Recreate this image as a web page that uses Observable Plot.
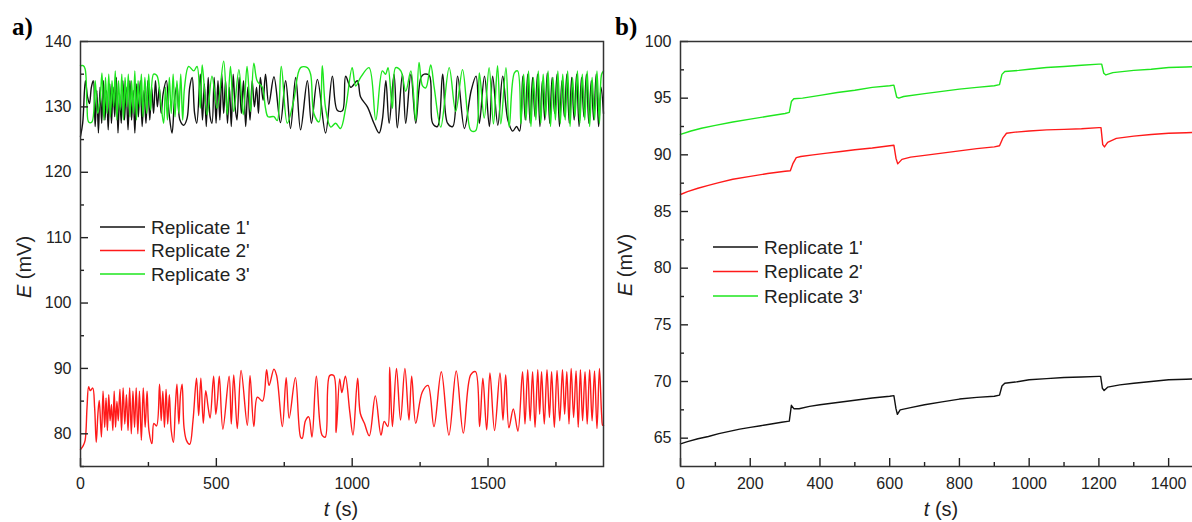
<!DOCTYPE html>
<html><head><meta charset="utf-8">
<script src="https://cdn.jsdelivr.net/npm/d3@7"></script>
<script src="https://cdn.jsdelivr.net/npm/@observablehq/plot@0.6"></script>
<style>
html,body{margin:0;padding:0;background:#fff;overflow:hidden;width:1192px;height:522px;}
#wrap{position:relative;width:1192px;height:522px;overflow:hidden;}
.panel{position:absolute;top:0;}
</style></head><body><div id="wrap"></div>
<script>
// ---------- data ----------
const seriesNames = ["Replicate 1'", "Replicate 2'", "Replicate 3'"];
const seriesColors = ["#111111", "#ff1a1a", "#1ee61e"];

// panel a ticks
const aXTicks = [0, 500, 1000, 1500];
const aXMinor = [250, 750, 1250, 1750];
const aYTicks = [80, 90, 100, 110, 120, 130, 140];
const aYMinor = [75, 85, 95, 105, 115, 125, 135];
// panel b ticks
const bXTicks = [0, 200, 400, 600, 800, 1000, 1200, 1400];
const bXMinor = [100, 300, 500, 700, 900, 1100, 1300];
const bYTicks = [65, 70, 75, 80, 85, 90, 95, 100];
const bYMinor = [67.5, 72.5, 77.5, 82.5, 87.5, 92.5, 97.5];

// panel a: [t (s), E (mV)]
const aRep1 = [[0,125.5],[8,127.5],[18,134],[26,131.5],[33,130.5],[40,133],[47,134],[54,127],[60,132.5],[66,126],[72,133],[78,127.5],[84,134],[90,128],[96,132.5],[102,126.5],[108,133.5],[114,127.5],[120,133],[126,128.5],[132,134.5],[138,126],[144,132],[150,127.5],[156,134],[162,128],[168,133],[175,126.5],[182,134],[188,128],[194,132.5],[200,126],[207,133.5],[213,128.5],[220,134],[227,127],[234,132.5],[241,127.5],[248,134],[255,128],[262,133],[269,129],[276,134],[283,130],[290,133],[297,129],[304,132],[316,134],[326,129],[337,126],[346,131],[355,133.3],[366,128],[380,127.2],[392,128.2],[402,133],[411,134.5],[420,129],[428,127.5],[441,135],[449,128],[456,133.5],[463,127],[470,134.5],[477,128.5],[484,127.5],[492,134.5],[499,127.5],[506,134],[513,128],[520,135],[527,129],[534,134],[541,127.5],[548,133],[555,127],[562,135],[569,130],[576,128],[584,134.5],[592,129],[600,134],[608,127],[616,133],[624,128],[632,134],[640,130],[648,133],[655,129],[662,134.5],[672,131],[681,135],[693,130.4],[712,134.6],[736,127.6],[755,134],[773,126.7],[792,134.5],[810,126.5],[835,134],[850,127.5],[872,134.2],[902,126],[927,134.7],[945,129.5],[964,129.4],[976,134.7],[995,133],[1019,134],[1031,131.5],[1056,130],[1080,127.5],[1099,126],[1111,128],[1124,134],[1136,127.5],[1154,135],[1166,126.8],[1185,135],[1197,127.5],[1216,135],[1234,127.5],[1253,134.5],[1265,135],[1284,134.8],[1296,127.5],[1314,127],[1333,135],[1351,127.5],[1370,127],[1388,134.7],[1413,126.7],[1438,132.5],[1456,134.7],[1468,127.5],[1487,134.7],[1505,127],[1517,134.7],[1536,127.2],[1554,134.7],[1573,128],[1591,126.3],[1605,127],[1616,126.3],[1628,134.7],[1637,128],[1646,135],[1655,127.5],[1664,134.5],[1673,128.5],[1682,135],[1691,127],[1700,134],[1709,128],[1718,135.2],[1727,127.5],[1736,134.5],[1745,129],[1754,135],[1763,127],[1772,134],[1781,128.5],[1790,135],[1799,127.5],[1808,134.5],[1817,128],[1826,135],[1835,127],[1844,134.5],[1853,128.5],[1862,135],[1871,127.5],[1880,134],[1889,128],[1898,135],[1907,127],[1916,133],[1925,129]];
const aRep2 = [[0,77.6],[10,78.2],[17,79],[24,84],[30,87.2],[36,86.6],[45,87],[52,84],[58,78.7],[64,83],[69,85.1],[77,79.5],[83,86.5],[89,81],[94,85.5],[99,80.5],[104,86],[109,82],[114,84.5],[119,80.5],[124,86.5],[129,81],[134,85],[139,82],[145,86.8],[151,80.5],[157,87],[163,81.5],[169,86],[175,80.5],[181,87],[187,80],[193,86.5],[199,81],[205,87],[211,80],[217,86.5],[224,79],[231,87],[238,81],[245,86.5],[252,80.5],[263,78.5],[270,81.6],[280,81.2],[291,87.6],[297,82],[303,86.5],[309,81],[315,86.8],[321,81.5],[327,86],[334,80.5],[342,78.7],[349,84],[355,87.6],[362,81.5],[368,86],[374,87.6],[381,81],[390,79],[402,78.4],[414,82],[427,88.5],[435,82.8],[443,88.5],[452,81.6],[461,86.6],[470,84],[477,82.4],[490,88.8],[498,83],[504,85.1],[511,88.8],[524,80.7],[547,88.8],[555,81.5],[564,89],[577,80.8],[591,89.7],[614,81.3],[624,88.9],[638,81.1],[651,85.6],[670,85],[685,89.8],[694,87.4],[712,89.9],[722,88.9],[743,81.1],[757,88.6],[768,82.4],[791,88.6],[810,79.5],[816,79.3],[828,82],[840,82.6],[852,79.5],[868,88.8],[889,79.8],[901,79.5],[917,88.9],[932,88.9],[941,80.2],[954,88.4],[962,86.3],[975,88.8],[991,83.4],[1003,79.8],[1020,88.5],[1030,83.1],[1045,81.6],[1063,79.7],[1085,85.8],[1106,79.8],[1118,81.9],[1131,81.1],[1138,90.2],[1148,81.1],[1163,90],[1178,82.1],[1194,90],[1209,82.1],[1219,88.8],[1234,81.6],[1258,86.4],[1279,87.4],[1301,81.1],[1328,89.5],[1356,79.8],[1383,89.6],[1409,80.1],[1436,89],[1454,89.5],[1469,81.1],[1481,88.5],[1495,80.6],[1507,89.3],[1524,80.5],[1544,89.3],[1555,82.1],[1565,89],[1577,80.9],[1593,83.8],[1610,80.4],[1627,89.5],[1636,81.5],[1646,89.8],[1655,82],[1664,89.5],[1673,81],[1683,89.8],[1690,83],[1697,89.5],[1707,81.5],[1717,89.8],[1726,82.5],[1734,89.5],[1744,81],[1754,89.7],[1764,82],[1774,89.8],[1782,83],[1790,89.5],[1798,81.5],[1806,90],[1815,82.5],[1824,89.6],[1832,81],[1840,89.8],[1848,82],[1857,89.5],[1865,81.5],[1874,89.8],[1883,82],[1892,89.6],[1901,80.8],[1910,90],[1918,83],[1922,81.3],[1925,81.3]];
const aRep3 = [[0,136.3],[10,136.3],[17,135.8],[24,130],[30,127.7],[42,127.7],[54,134],[63,129],[72,131],[79,135.2],[86,128],[92,134.5],[98,129],[104,135],[110,128.5],[116,134],[122,130],[128,135.5],[134,128],[140,134],[146,129.5],[152,135],[158,128],[164,134.5],[170,130],[176,135],[182,128.5],[188,134],[194,129],[200,135.5],[206,128],[212,134],[218,130],[224,135],[230,128.5],[237,134.5],[244,129],[251,135],[258,129.5],[269,135],[281,134.8],[294,131.2],[306,127.5],[313,133],[320,128],[327,134.5],[334,129],[341,135],[348,128.5],[355,134],[362,129],[369,135],[376,128],[383,133],[398,136.2],[417,135.5],[429,136.2],[441,129.8],[448,136.4],[466,128.8],[484,134.7],[503,129.8],[527,137],[540,128.8],[552,136.2],[564,129.3],[583,135.7],[599,128.8],[613,136.2],[626,129.3],[638,136.7],[650,134],[669,133],[681,129.8],[690,128.5],[712,128.5],[724,127.9],[739,136.2],[761,127.5],[785,131],[810,136],[835,136],[847,135],[859,129],[878,127.7],[890,136.3],[902,129.8],[921,126.9],[939,127.5],[957,126.7],[976,129.8],[1000,136],[1013,133.2],[1031,134.5],[1062,136],[1087,128],[1111,135.5],[1123,135],[1132,136],[1148,129.8],[1160,136],[1179,135.5],[1197,132.4],[1216,135.5],[1234,127.9],[1246,136.8],[1259,133.2],[1271,132.9],[1289,136.4],[1302,132.9],[1326,126.9],[1357,136],[1381,129.3],[1406,135.7],[1425,128.8],[1437,126.4],[1455,126.4],[1468,135.2],[1486,128.3],[1504,136],[1520,127.4],[1535,136.3],[1547,127.4],[1566,136],[1578,126.9],[1597,135.2],[1609,135.5],[1621,127.4],[1631,135],[1640,128],[1649,135.5],[1658,127],[1667,134.5],[1676,128],[1685,135.5],[1694,127.5],[1703,135],[1712,128.5],[1721,135.5],[1730,127],[1739,134.5],[1748,128],[1757,135.5],[1766,127.5],[1775,135],[1784,128],[1793,135.5],[1802,127],[1811,134.5],[1820,128.5],[1829,135.5],[1838,127.5],[1847,135],[1856,128],[1865,135.5],[1874,127],[1883,134.5],[1892,128],[1901,135.5],[1910,127.5],[1918,135],[1925,135.5]];

// panel b: [t (s), E (mV)]
const bRep1 = [[0,64.5],[20,64.7],[50,64.95],[80,65.15],[110,65.4],[140,65.6],[170,65.8],[200,65.95],[230,66.1],[260,66.25],[290,66.4],[312,66.5],[318,67.9],[325,67.6],[340,67.6],[370,67.8],[400,67.95],[450,68.15],[500,68.35],[550,68.55],[600,68.7],[612,68.75],[618,67.6],[622,67.1],[630,67.5],[660,67.7],[700,67.95],[750,68.2],[800,68.45],[850,68.6],[900,68.7],[915,68.8],[922,69.6],[930,69.85],[960,69.95],[1000,70.15],[1050,70.25],[1100,70.35],[1150,70.4],[1200,70.45],[1205,70.45],[1210,69.4],[1215,69.2],[1225,69.5],[1260,69.7],[1300,69.85],[1350,70.0],[1400,70.15],[1450,70.2],[1500,70.25]];
const bRep2 = [[0,86.5],[20,86.75],[50,87.05],[80,87.3],[110,87.55],[150,87.85],[200,88.1],[250,88.35],[300,88.55],[315,88.6],[322,89.2],[332,89.75],[345,89.85],[380,90.0],[420,90.15],[460,90.3],[500,90.45],[550,90.6],[600,90.8],[612,90.85],[618,89.7],[623,89.2],[635,89.6],[660,89.8],[700,89.95],[750,90.15],[800,90.35],[850,90.55],[900,90.7],[915,90.8],[925,91.5],[935,91.9],[960,92.0],[1000,92.1],[1050,92.2],[1100,92.25],[1150,92.3],[1200,92.4],[1206,92.4],[1211,90.9],[1216,90.7],[1225,91.1],[1250,91.45],[1300,91.65],[1350,91.8],[1400,91.9],[1450,91.95],[1500,92.0]];
const bRep3 = [[0,91.8],[30,92.1],[60,92.35],[100,92.6],[150,92.9],[200,93.15],[250,93.4],[300,93.65],[312,93.75],[318,94.7],[325,94.95],[350,95.0],[400,95.25],[450,95.5],[500,95.7],[550,95.95],[600,96.1],[612,96.15],[620,95.1],[626,95.0],[640,95.15],[700,95.4],[750,95.6],[800,95.8],[850,95.95],[900,96.1],[915,96.2],[922,97.1],[930,97.35],[970,97.45],[1000,97.55],[1050,97.7],[1100,97.8],[1150,97.9],[1200,98.0],[1208,98.0],[1214,97.2],[1220,97.05],[1240,97.25],[1300,97.45],[1350,97.55],[1400,97.7],[1450,97.75],[1500,97.8]];

// ---------- drawing ----------
const FONT = "'Liberation Sans', Arial, sans-serif";
const AXIS = "#222";
const TOP = 41, BOTTOM = 56, H = 522;

function rowsOf(list) {
  const rows = [];
  list.forEach((pts, i) => pts.forEach(([t, e]) => rows.push({t, e, s: seriesNames[i]})));
  return rows;
}

function makePanel(o) {
  const fmt = d => String(d);
  const innerW = o.width - o.marginLeft - o.marginRight;
  const innerH = H - TOP - BOTTOM;
  const svg = Plot.plot({
    width: o.width, height: H,
    marginLeft: o.marginLeft, marginRight: o.marginRight, marginTop: TOP, marginBottom: BOTTOM,
    x: {domain: o.xDomain, label: null},
    y: {domain: o.yDomain, label: null},
    color: {domain: seriesNames, range: seriesColors},
    style: {fontFamily: FONT, fontSize: "16px", color: AXIS, background: "transparent", overflow: "visible"},
    marks: [
      Plot.line(o.rows, {x: "t", y: "e", stroke: "s", strokeWidth: 1.4, curve: o.curve}),
      // tick labels
      Plot.axisX({ticks: o.xTicks, tickFormat: fmt, tickSize: 0, tickPadding: 11, label: null}),
      Plot.axisY({ticks: o.yTicks, tickFormat: fmt, tickSize: 0, tickPadding: 9, label: null}),
      // inward ticks
      Plot.tickX(o.xTicks, {x: d => d, stroke: AXIS, strokeWidth: 1.4, insetTop: innerH - 8}),
      Plot.tickX(o.xMinor, {x: d => d, stroke: AXIS, strokeWidth: 1.4, insetTop: innerH - 4}),
      Plot.tickY(o.yTicks, {y: d => d, stroke: AXIS, strokeWidth: 1.4, insetRight: innerW - 8}),
      Plot.tickY(o.yMinor, {y: d => d, stroke: AXIS, strokeWidth: 1.4, insetRight: innerW - 4}),
      Plot.frame({stroke: "#333", strokeWidth: 1.5})
    ]
  });
  const s = d3.select(svg);
  // panel label
  s.append("text").attr("x", o.tagX).attr("y", 35).attr("text-anchor", "start")
    .attr("font-family", "'Liberation Serif', 'Times New Roman', serif")
    .attr("font-weight", "bold").attr("font-size", 25).attr("fill", "#000").text(o.tag);
  // y label
  const yl = s.append("text")
    .attr("transform", `translate(${o.yLabelX},${o.yLabelY}) rotate(-90)`)
    .attr("text-anchor", "middle").attr("font-family", FONT).attr("font-size", 20).attr("fill", AXIS);
  yl.append("tspan").attr("font-style", "italic").text("E");
  yl.append("tspan").text(" (mV)");
  // x label
  const xl = s.append("text").attr("x", o.xLabelX).attr("y", 516)
    .attr("text-anchor", "middle").attr("font-family", FONT).attr("font-size", 20).attr("fill", AXIS);
  xl.append("tspan").attr("font-style", "italic").text("t");
  xl.append("tspan").text(" (s)");
  // legend
  seriesNames.forEach((name, i) => {
    const y = o.legY + i * o.legStep;
    s.append("line").attr("x1", o.legX).attr("x2", o.legX + 45).attr("y1", y).attr("y2", y)
      .attr("stroke", seriesColors[i]).attr("stroke-width", 1.6);
    s.append("text").attr("x", o.legX + 51).attr("y", y + 6.5).attr("text-anchor", "start")
      .attr("font-family", FONT).attr("font-size", 19).attr("fill", AXIS).text(name);
  });
  return svg;
}

const wrap = document.getElementById("wrap");

const pa = makePanel({
  rows: rowsOf([aRep1, aRep2, aRep3]),
  width: 610, marginLeft: 80, marginRight: 7,
  xDomain: [0, 1925], yDomain: [75, 140],
  xTicks: aXTicks, xMinor: aXMinor, yTicks: aYTicks, yMinor: aYMinor,
  curve: "catmull-rom",
  tag: "a)", tagX: 12, yLabelX: 31, yLabelY: 267, xLabelX: 341,
  legX: 100, legY: 227, legStep: 23.5
});
pa.classList.add("panel"); pa.style.left = "0px";
wrap.appendChild(pa);

const pb = makePanel({
  rows: rowsOf([bRep1, bRep2, bRep3]),
  width: 603, marginLeft: 70, marginRight: 10,
  xDomain: [0, 1500], yDomain: [62.5, 100],
  xTicks: bXTicks, xMinor: bXMinor, yTicks: bYTicks, yMinor: bYMinor,
  curve: "linear",
  tag: "b)", tagX: 5, yLabelX: 22, yLabelY: 265, xLabelX: 331,
  legX: 103, legY: 247, legStep: 24.5
});
pb.classList.add("panel"); pb.style.left = "610px";
wrap.appendChild(pb);
</script></body></html>
